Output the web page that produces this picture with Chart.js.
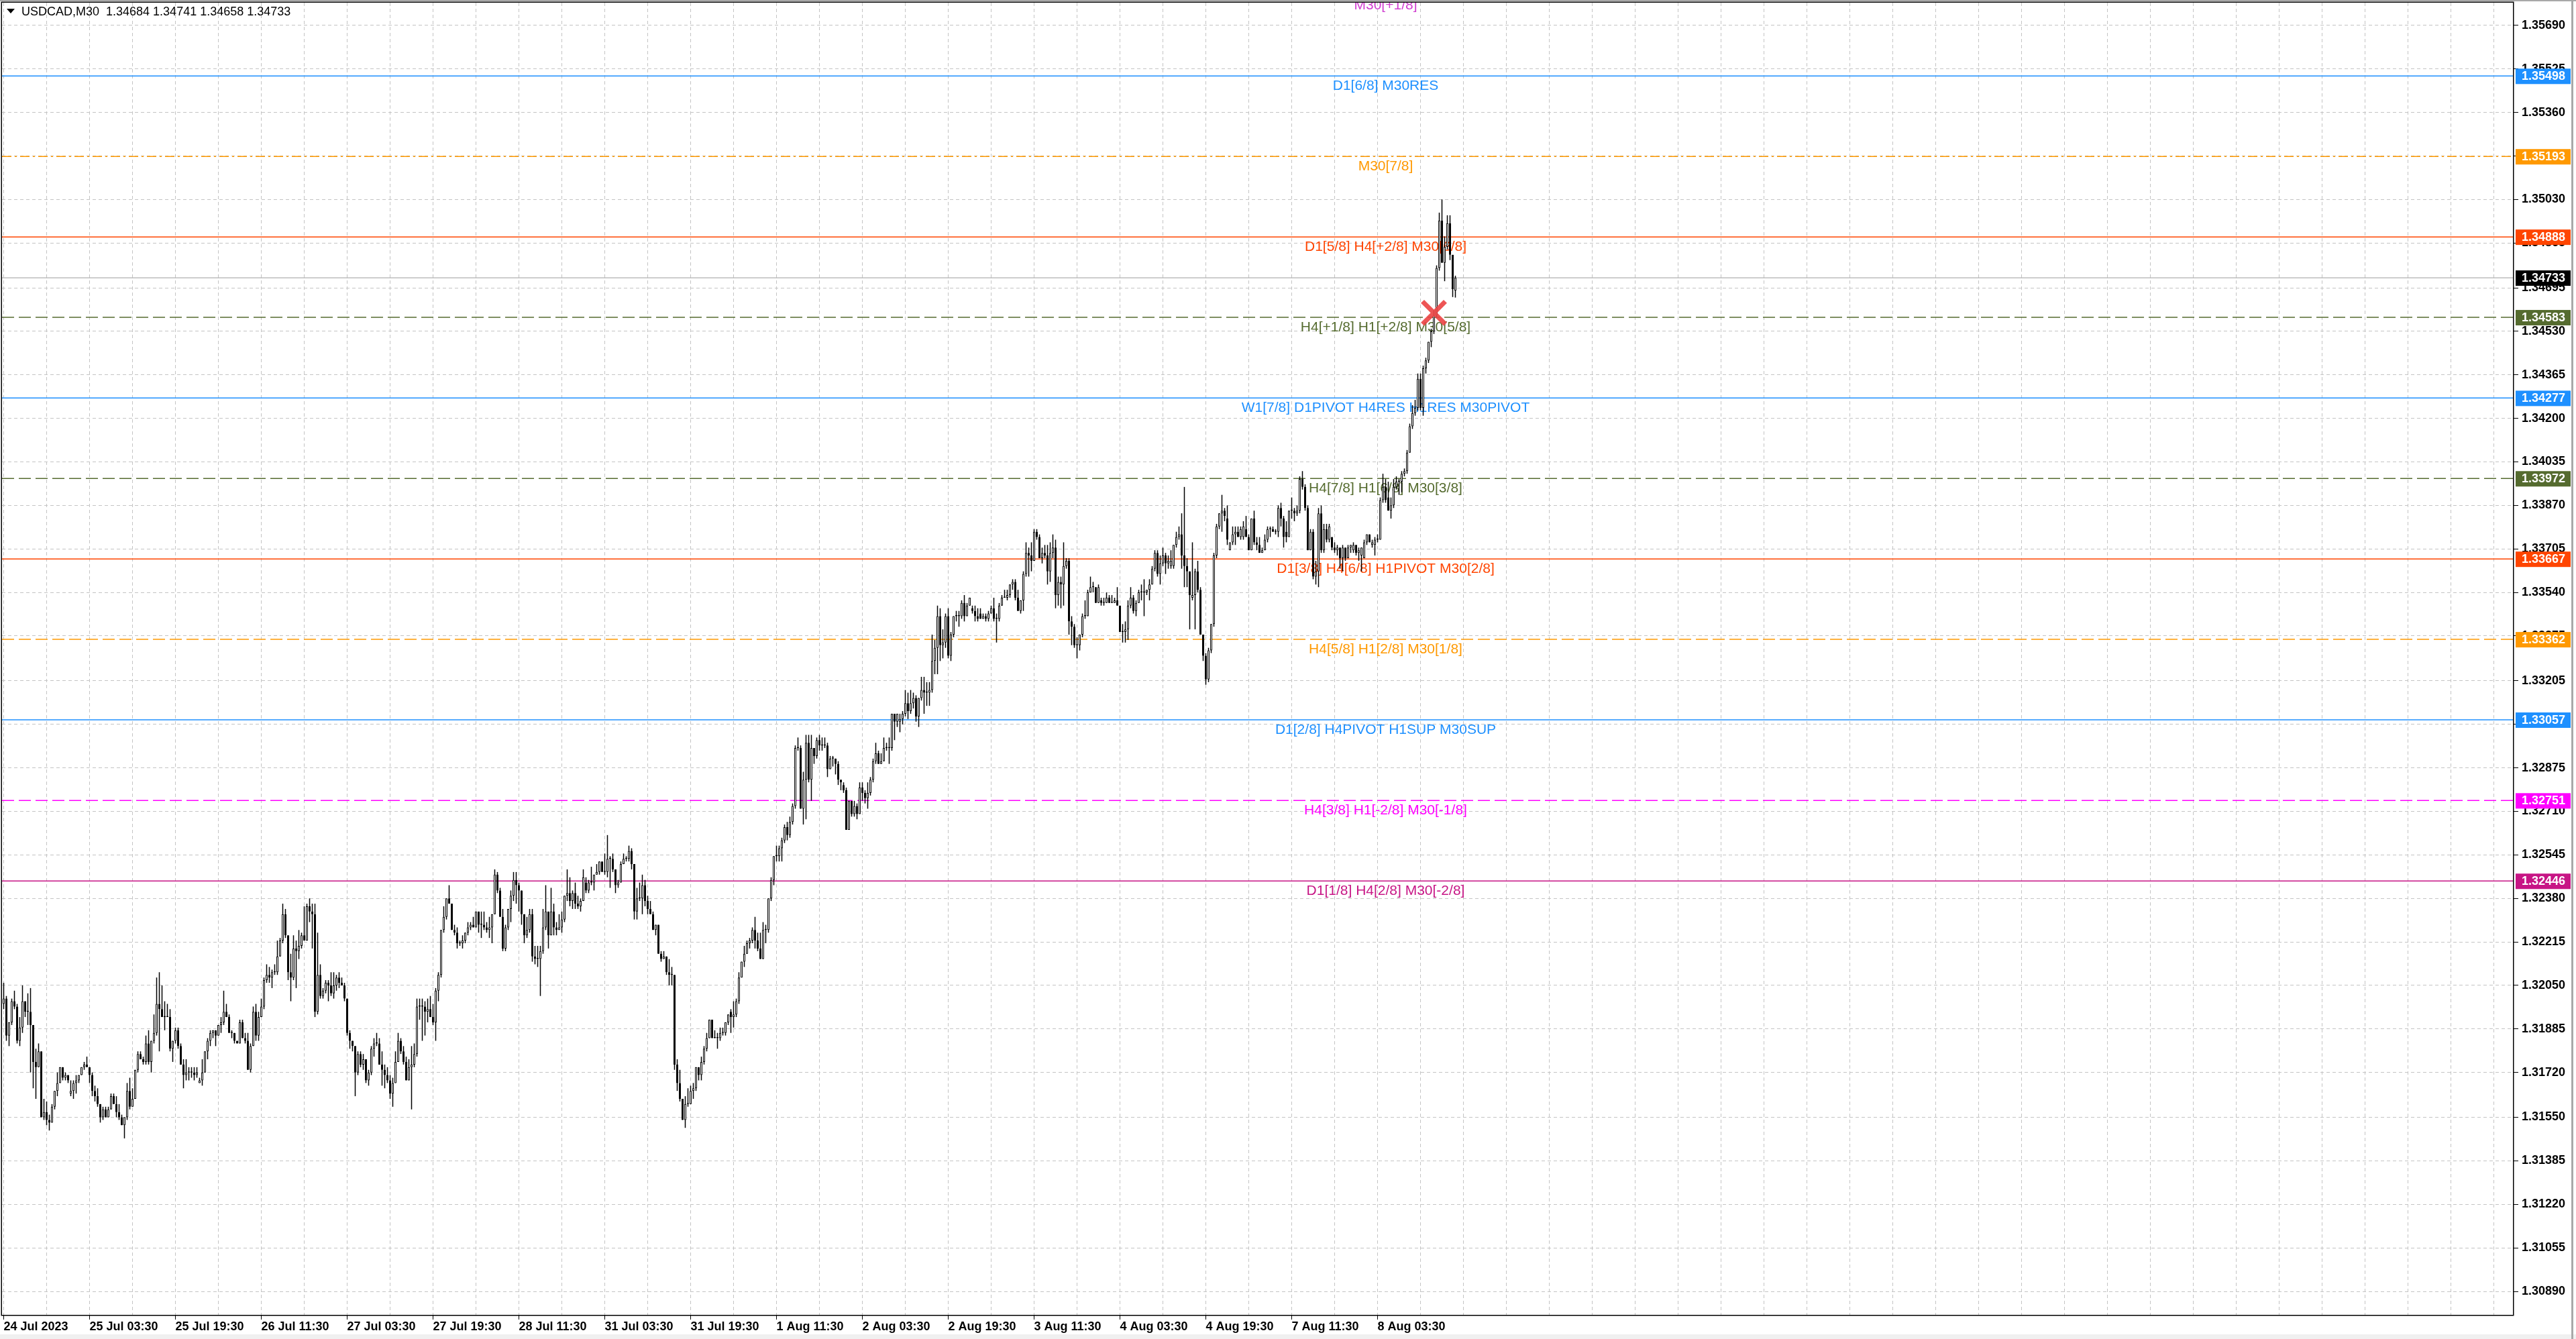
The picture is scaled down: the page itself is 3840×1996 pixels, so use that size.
<!DOCTYPE html>
<html>
<head>
<meta charset="utf-8">
<title>USDCAD,M30</title>
<script src="https://cdn.jsdelivr.net/npm/chart.js@4.4.1/dist/chart.umd.min.js"></script>
<style>
  html, body { margin: 0; padding: 0; background: #fff; }
  #wrap { width: 3840px; height: 1996px; position: relative; }
</style>
</head>
<body>
<div id="wrap"><canvas id="chart"></canvas></div>
<script>
// header line of the terminal window
const symbolTitle = 'USDCAD,M30  1.34684 1.34741 1.34658 1.34733';

// M30 bars, oldest first
const opens = [
  1.3198,1.3200,1.3186,1.3191,1.3199,1.3197,1.3184,1.3189,1.3199,1.3195,
  1.3195,1.3190,1.3176,1.3174,1.3180,1.3155,1.3157,1.3154,1.3153,1.3159,
  1.3165,1.3168,1.3174,1.3170,1.3171,1.3164,1.3165,1.3168,1.3169,1.3171,
  1.3174,1.3175,1.3174,1.3171,1.3165,1.3163,1.3160,1.3155,1.3158,1.3155,
  1.3158,1.3163,1.3160,1.3157,1.3155,1.3152,1.3155,1.3165,1.3159,1.3162,
  1.3173,1.3179,1.3177,1.3176,1.3183,1.3176,1.3184,1.3187,1.3198,1.3196,
  1.3193,1.3193,1.3193,1.3181,1.3184,1.3188,1.3182,1.3175,1.3171,1.3172,
  1.3172,1.3172,1.3171,1.3168,1.3169,1.3172,1.3180,1.3184,1.3187,1.3188,
  1.3186,1.3190,1.3191,1.3195,1.3193,1.3187,1.3187,1.3184,1.3183,1.3191,
  1.3185,1.3184,1.3173,1.3182,1.3195,1.3186,1.3193,1.3197,1.3207,1.3209,
  1.3208,1.3210,1.3210,1.3216,1.3222,1.3232,1.3224,1.3210,1.3208,1.3219,
  1.3218,1.3220,1.3224,1.3222,1.3235,1.3233,1.3232,1.3195,1.3209,1.3201,
  1.3203,1.3206,1.3205,1.3202,1.3205,1.3208,1.3206,1.3205,1.3200,1.3187,
  1.3184,1.3182,1.3172,1.3179,1.3175,1.3177,1.3169,1.3172,1.3181,1.3183,
  1.3183,1.3175,1.3173,1.3171,1.3169,1.3164,1.3168,1.3176,1.3184,1.3180,
  1.3176,1.3169,1.3174,1.3175,1.3179,1.3197,1.3197,1.3197,1.3195,1.3196,
  1.3193,1.3191,1.3203,1.3209,1.3226,1.3231,1.3238,1.3236,1.3226,1.3225,
  1.3221,1.3221,1.3222,1.3225,1.3227,1.3228,1.3227,1.3233,1.3228,1.3228,
  1.3227,1.3226,1.3227,1.3232,1.3247,1.3241,1.3231,1.3219,1.3227,1.3234,
  1.3239,1.3245,1.3243,1.3241,1.3232,1.3224,1.3226,1.3232,1.3216,1.3215,
  1.3215,1.3218,1.3227,1.3233,1.3224,1.3233,1.3227,1.3226,1.3227,1.3230,
  1.3239,1.3240,1.3237,1.3240,1.3236,1.3235,1.3237,1.3244,1.3241,1.3244,
  1.3244,1.3247,1.3248,1.3252,1.3248,1.3248,1.3253,1.3253,1.3249,1.3243,
  1.3244,1.3251,1.3253,1.3253,1.3256,1.3251,1.3233,1.3238,1.3238,1.3243,
  1.3237,1.3234,1.3232,1.3226,1.3228,1.3217,1.3215,1.3216,1.3210,1.3209,
  1.3209,1.3175,1.3168,1.3162,1.3154,1.3160,1.3160,1.3165,1.3166,1.3174,
  1.3171,1.3176,1.3181,1.3185,1.3192,1.3185,1.3185,1.3185,1.3187,1.3187,
  1.3191,1.3195,1.3193,1.3194,1.3199,1.3208,1.3214,1.3217,1.3221,1.3222,
  1.3226,1.3222,1.3219,1.3215,1.3226,1.3226,1.3238,1.3245,1.3254,1.3254,
  1.3257,1.3260,1.3265,1.3262,1.3267,1.3273,1.3295,1.3295,1.3272,1.3283,
  1.3297,1.3283,1.3295,1.3292,1.3298,1.3296,1.3296,1.3296,1.3287,1.3291,
  1.3291,1.3289,1.3283,1.3281,1.3279,1.3264,1.3275,1.3270,1.3273,1.3270,
  1.3280,1.3278,1.3276,1.3278,1.3283,1.3290,1.3293,1.3289,1.3290,1.3295,
  1.3295,1.3295,1.3308,1.3305,1.3305,1.3306,1.3308,1.3312,1.3309,1.3312,
  1.3314,1.3307,1.3314,1.3317,1.3316,1.3316,1.3317,1.3328,1.3333,1.3345,
  1.3334,1.3335,1.3345,1.3330,1.3338,1.3345,1.3345,1.3345,1.3350,1.3345,
  1.3349,1.3348,1.3347,1.3345,1.3346,1.3344,1.3345,1.3344,1.3346,1.3348,
  1.3344,1.3344,1.3349,1.3352,1.3352,1.3353,1.3357,1.3358,1.3352,1.3347,
  1.3351,1.3361,1.3369,1.3368,1.3366,1.3377,1.3375,1.3367,1.3369,1.3368,
  1.3362,1.3369,1.3371,1.3353,1.3358,1.3357,1.3364,1.3366,1.3343,1.3341,
  1.3334,1.3334,1.3338,1.3345,1.3345,1.3354,1.3356,1.3356,1.3350,1.3351,
  1.3350,1.3350,1.3352,1.3350,1.3350,1.3351,1.3349,1.3339,1.3339,1.3340,
  1.3349,1.3352,1.3347,1.3350,1.3354,1.3354,1.3354,1.3355,1.3357,1.3363,
  1.3369,1.3361,1.3365,1.3368,1.3365,1.3364,1.3364,1.3372,1.3375,1.3376,
  1.3368,1.3364,1.3362,1.3352,1.3353,1.3362,1.3355,1.3338,1.3330,1.3321,
  1.3332,1.3342,1.3368,1.3379,1.3384,1.3385,1.3382,1.3370,1.3373,1.3376,
  1.3377,1.3375,1.3375,1.3378,1.3375,1.3370,1.3382,1.3373,1.3372,1.3369,
  1.3370,1.3374,1.3378,1.3378,1.3377,1.3377,1.3386,1.3382,1.3377,1.3375,
  1.3385,1.3385,1.3384,1.3385,1.3397,1.3394,1.3386,1.3370,1.3377,1.3360,
  1.3362,1.3384,1.3370,1.3378,1.3374,1.3375,1.3371,1.3370,1.3371,1.3367,
  1.3371,1.3367,1.3371,1.3370,1.3372,1.3369,1.3368,1.3367,1.3373,1.3376,
  1.3372,1.3372,1.3374,1.3374,1.3389,1.3394,1.3390,1.3385,1.3387,1.3394,
  1.3396,1.3396,1.3399,1.3400,1.3407,1.3417,1.3422,1.3424,1.3435,1.3424,
  1.3439,1.3442,1.3449,1.3453,1.3459,1.3477,1.3495,1.3479,1.3485,1.3494,
  1.3482,1.34684
];
const highs = [
  1.3206,1.3201,1.3191,1.3200,1.3203,1.3198,1.3193,1.3205,1.3199,1.3202,
  1.3204,1.3190,1.3181,1.3183,1.3180,1.3162,1.3161,1.3156,1.3160,1.3165,
  1.3172,1.3174,1.3174,1.3172,1.3171,1.3169,1.3169,1.3171,1.3171,1.3174,
  1.3176,1.3178,1.3174,1.3172,1.3167,1.3166,1.3160,1.3159,1.3159,1.3159,
  1.3164,1.3164,1.3163,1.3160,1.3156,1.3155,1.3168,1.3170,1.3166,1.3173,
  1.3180,1.3180,1.3178,1.3186,1.3188,1.3184,1.3194,1.3208,1.3210,1.3205,
  1.3199,1.3198,1.3196,1.3184,1.3189,1.3189,1.3183,1.3177,1.3177,1.3174,
  1.3174,1.3174,1.3174,1.3170,1.3177,1.3180,1.3185,1.3188,1.3188,1.3188,
  1.3190,1.3193,1.3203,1.3198,1.3194,1.3188,1.3187,1.3184,1.3192,1.3192,
  1.3187,1.3187,1.3183,1.3197,1.3198,1.3195,1.3200,1.3208,1.3213,1.3212,
  1.3211,1.3213,1.3222,1.3223,1.3236,1.3234,1.3224,1.3217,1.3224,1.3222,
  1.3226,1.3225,1.3235,1.3236,1.3238,1.3236,1.3236,1.3225,1.3213,1.3204,
  1.3207,1.3207,1.3210,1.3210,1.3209,1.3210,1.3208,1.3206,1.3200,1.3188,
  1.3184,1.3182,1.3180,1.3180,1.3179,1.3177,1.3173,1.3182,1.3185,1.3187,
  1.3185,1.3180,1.3175,1.3174,1.3171,1.3170,1.3180,1.3187,1.3185,1.3182,
  1.3178,1.3177,1.3182,1.3183,1.3200,1.3200,1.3200,1.3199,1.3200,1.3201,
  1.3198,1.3204,1.3210,1.3226,1.3235,1.3238,1.3243,1.3236,1.3228,1.3227,
  1.3222,1.3224,1.3225,1.3229,1.3229,1.3231,1.3233,1.3233,1.3233,1.3233,
  1.3229,1.3231,1.3232,1.3249,1.3248,1.3242,1.3234,1.3228,1.3234,1.3241,
  1.3248,1.3248,1.3244,1.3241,1.3232,1.3231,1.3234,1.3234,1.3220,1.3220,
  1.3220,1.3234,1.3243,1.3233,1.3242,1.3236,1.3229,1.3232,1.3233,1.3239,
  1.3249,1.3246,1.3241,1.3244,1.3239,1.3238,1.3249,1.3246,1.3245,1.3250,
  1.3247,1.3251,1.3252,1.3252,1.3255,1.3262,1.3254,1.3255,1.3249,1.3245,
  1.3252,1.3255,1.3254,1.3258,1.3257,1.3251,1.3242,1.3244,1.3247,1.3245,
  1.3239,1.3237,1.3233,1.3228,1.3228,1.3218,1.3218,1.3216,1.3215,1.3212,
  1.3209,1.3177,1.3173,1.3162,1.3163,1.3166,1.3167,1.3168,1.3174,1.3174,
  1.3178,1.3182,1.3187,1.3192,1.3192,1.3188,1.3187,1.3189,1.3189,1.3191,
  1.3194,1.3196,1.3199,1.3200,1.3210,1.3214,1.3220,1.3222,1.3223,1.3227,
  1.3231,1.3225,1.3225,1.3229,1.3228,1.3238,1.3246,1.3254,1.3258,1.3258,
  1.3261,1.3266,1.3267,1.3269,1.3274,1.3296,1.3299,1.3296,1.3286,1.3300,
  1.3300,1.3300,1.3295,1.3299,1.3300,1.3299,1.3299,1.3297,1.3292,1.3292,
  1.3291,1.3290,1.3283,1.3282,1.3280,1.3275,1.3275,1.3275,1.3274,1.3282,
  1.3282,1.3279,1.3282,1.3284,1.3291,1.3297,1.3294,1.3293,1.3299,1.3297,
  1.3299,1.3308,1.3308,1.3308,1.3308,1.3309,1.3317,1.3316,1.3317,1.3316,
  1.3315,1.3314,1.3322,1.3322,1.3320,1.3320,1.3338,1.3336,1.3349,1.3348,
  1.3340,1.3346,1.3348,1.3339,1.3345,1.3347,1.3347,1.3351,1.3353,1.3350,
  1.3352,1.3349,1.3349,1.3348,1.3348,1.3346,1.3346,1.3347,1.3349,1.3352,
  1.3346,1.3350,1.3353,1.3355,1.3355,1.3357,1.3359,1.3359,1.3355,1.3351,
  1.3362,1.3373,1.3371,1.3373,1.3378,1.3378,1.3376,1.3371,1.3372,1.3372,
  1.3373,1.3376,1.3374,1.3360,1.3360,1.3373,1.3367,1.3367,1.3345,1.3342,
  1.3337,1.3338,1.3346,1.3351,1.3355,1.3360,1.3358,1.3356,1.3357,1.3352,
  1.3352,1.3354,1.3353,1.3353,1.3352,1.3356,1.3349,1.3342,1.3343,1.3351,
  1.3356,1.3353,1.3351,1.3355,1.3357,1.3359,1.3355,1.3359,1.3364,1.3370,
  1.3370,1.3368,1.3371,1.3369,1.3368,1.3370,1.3372,1.3377,1.3379,1.3384,
  1.3394,1.3367,1.3362,1.3373,1.3363,1.3366,1.3356,1.3338,1.3331,1.3333,
  1.3342,1.3369,1.3380,1.3384,1.3391,1.3386,1.3387,1.3373,1.3379,1.3379,
  1.3379,1.3379,1.3381,1.3383,1.3376,1.3382,1.3385,1.3375,1.3375,1.3371,
  1.3376,1.3379,1.3379,1.3379,1.3378,1.3387,1.3388,1.3383,1.3381,1.3385,
  1.3390,1.3386,1.3387,1.3398,1.3400,1.3395,1.3387,1.3378,1.3378,1.3366,
  1.3386,1.3387,1.3380,1.3380,1.3380,1.3375,1.3373,1.3372,1.3371,1.3372,
  1.3371,1.3372,1.3372,1.3373,1.3372,1.3371,1.3371,1.3374,1.3376,1.3376,
  1.3374,1.3375,1.3376,1.3390,1.3399,1.3397,1.3396,1.3390,1.3397,1.3398,
  1.3397,1.3400,1.3401,1.3408,1.3418,1.3425,1.3427,1.3437,1.3437,1.3440,
  1.3443,1.3449,1.3454,1.3461,1.3478,1.3498,1.3503,1.3489,1.3497,1.3497,
  1.3482,1.34741
];
const lows = [
  1.3196,1.3184,1.3182,1.3190,1.3196,1.3183,1.3182,1.3187,1.3193,1.3190,
  1.3172,1.3166,1.3162,1.3174,1.3155,1.3154,1.3152,1.3150,1.3153,1.3158,
  1.3163,1.3168,1.3169,1.3169,1.3168,1.3163,1.3162,1.3164,1.3168,1.3171,
  1.3173,1.3174,1.3168,1.3163,1.3161,1.3159,1.3153,1.3154,1.3155,1.3155,
  1.3158,1.3160,1.3155,1.3154,1.3152,1.3147,1.3154,1.3158,1.3159,1.3162,
  1.3172,1.3177,1.3175,1.3175,1.3175,1.3172,1.3183,1.3186,1.3180,1.3193,
  1.3188,1.3193,1.3180,1.3176,1.3183,1.3181,1.3175,1.3166,1.3169,1.3169,
  1.3170,1.3169,1.3170,1.3168,1.3167,1.3172,1.3177,1.3182,1.3185,1.3182,
  1.3186,1.3187,1.3190,1.3193,1.3187,1.3185,1.3183,1.3183,1.3183,1.3185,
  1.3183,1.3173,1.3172,1.3182,1.3184,1.3184,1.3193,1.3196,1.3206,1.3206,
  1.3204,1.3209,1.3209,1.3216,1.3221,1.3223,1.3207,1.3199,1.3207,1.3204,
  1.3215,1.3219,1.3222,1.3222,1.3229,1.3219,1.3193,1.3194,1.3200,1.3200,
  1.3202,1.3199,1.3201,1.3200,1.3203,1.3204,1.3205,1.3199,1.3186,1.3181,
  1.3180,1.3163,1.3171,1.3174,1.3173,1.3168,1.3167,1.3171,1.3178,1.3182,
  1.3175,1.3167,1.3166,1.3168,1.3162,1.3159,1.3168,1.3176,1.3179,1.3175,
  1.3169,1.3169,1.3158,1.3174,1.3178,1.3192,1.3184,1.3186,1.3191,1.3193,
  1.3190,1.3184,1.3199,1.3208,1.3225,1.3230,1.3236,1.3226,1.3224,1.3219,
  1.3220,1.3219,1.3221,1.3224,1.3226,1.3227,1.3227,1.3225,1.3223,1.3226,
  1.3225,1.3223,1.3221,1.3232,1.3240,1.3231,1.3218,1.3218,1.3226,1.3229,
  1.3237,1.3236,1.3233,1.3228,1.3221,1.3223,1.3225,1.3214,1.3213,1.3212,
  1.3201,1.3217,1.3226,1.3219,1.3224,1.3224,1.3224,1.3226,1.3225,1.3229,
  1.3237,1.3235,1.3234,1.3234,1.3234,1.3233,1.3237,1.3240,1.3240,1.3243,
  1.3241,1.3247,1.3247,1.3248,1.3247,1.3246,1.3242,1.3248,1.3240,1.3242,
  1.3244,1.3251,1.3252,1.3252,1.3249,1.3230,1.3230,1.3237,1.3232,1.3235,
  1.3232,1.3232,1.3226,1.3224,1.3217,1.3214,1.3215,1.3209,1.3205,1.3205,
  1.3173,1.3165,1.3161,1.3154,1.3151,1.3159,1.3160,1.3162,1.3165,1.3169,
  1.3169,1.3175,1.3180,1.3185,1.3185,1.3185,1.3181,1.3184,1.3186,1.3186,
  1.3190,1.3187,1.3189,1.3193,1.3198,1.3208,1.3212,1.3217,1.3219,1.3221,
  1.3219,1.3218,1.3215,1.3215,1.3221,1.3225,1.3237,1.3243,1.3252,1.3252,
  1.3252,1.3259,1.3260,1.3261,1.3266,1.3272,1.3294,1.3272,1.3266,1.3268,
  1.3282,1.3275,1.3289,1.3291,1.3294,1.3294,1.3295,1.3284,1.3287,1.3288,
  1.3285,1.3281,1.3279,1.3278,1.3264,1.3264,1.3269,1.3269,1.3268,1.3270,
  1.3275,1.3274,1.3272,1.3277,1.3282,1.3289,1.3289,1.3289,1.3290,1.3294,
  1.3289,1.3294,1.3298,1.3303,1.3301,1.3304,1.3307,1.3306,1.3308,1.3310,
  1.3305,1.3303,1.3313,1.3308,1.3311,1.3311,1.3316,1.3323,1.3323,1.3328,
  1.3329,1.3333,1.3329,1.3328,1.3337,1.3343,1.3341,1.3344,1.3343,1.3345,
  1.3349,1.3346,1.3343,1.3343,1.3344,1.3344,1.3343,1.3343,1.3346,1.3343,
  1.3335,1.3343,1.3349,1.3352,1.3351,1.3352,1.3355,1.3351,1.3347,1.3346,
  1.3347,1.3360,1.3360,1.3362,1.3366,1.3374,1.3367,1.3365,1.3367,1.3357,
  1.3358,1.3367,1.3348,1.3349,1.3348,1.3349,1.3363,1.3338,1.3334,1.3333,
  1.3329,1.3332,1.3337,1.3344,1.3345,1.3354,1.3354,1.3350,1.3350,1.3349,
  1.3349,1.3350,1.3350,1.3350,1.3350,1.3349,1.3339,1.3335,1.3335,1.3336,
  1.3348,1.3346,1.3345,1.3350,1.3351,1.3345,1.3353,1.3351,1.3357,1.3362,
  1.3360,1.3357,1.3364,1.3361,1.3363,1.3363,1.3363,1.3371,1.3374,1.3363,
  1.3356,1.3356,1.3340,1.3351,1.3340,1.3354,1.3338,1.3328,1.3319,1.3320,
  1.3331,1.3341,1.3367,1.3378,1.3377,1.3381,1.3372,1.3370,1.3372,1.3372,
  1.3375,1.3374,1.3374,1.3375,1.3370,1.3370,1.3372,1.3370,1.3369,1.3369,
  1.3370,1.3373,1.3375,1.3377,1.3376,1.3375,1.3379,1.3371,1.3373,1.3375,
  1.3382,1.3381,1.3383,1.3384,1.3393,1.3385,1.3370,1.3370,1.3359,1.3357,
  1.3356,1.3369,1.3369,1.3373,1.3373,1.3370,1.3369,1.3368,1.3363,1.3362,
  1.3366,1.3367,1.3369,1.3369,1.3368,1.3366,1.3362,1.3367,1.3372,1.3373,
  1.3371,1.3368,1.3373,1.3374,1.3388,1.3388,1.3385,1.3382,1.3386,1.3393,
  1.3391,1.3392,1.3398,1.3399,1.3407,1.3416,1.3421,1.3423,1.3423,1.3421,
  1.3437,1.3441,1.3447,1.3452,1.3458,1.3476,1.3479,1.3472,1.3484,1.3480,
  1.3466,1.34658
];
const closes = [
  1.3200,1.3186,1.3191,1.3199,1.3197,1.3184,1.3189,1.3199,1.3195,1.3195,
  1.3190,1.3176,1.3174,1.3180,1.3155,1.3157,1.3154,1.3153,1.3159,1.3165,
  1.3168,1.3174,1.3170,1.3171,1.3169,1.3165,1.3168,1.3169,1.3171,1.3174,
  1.3175,1.3174,1.3171,1.3165,1.3163,1.3160,1.3155,1.3158,1.3155,1.3158,
  1.3163,1.3160,1.3157,1.3155,1.3152,1.3155,1.3165,1.3159,1.3162,1.3173,
  1.3179,1.3177,1.3176,1.3183,1.3176,1.3184,1.3187,1.3198,1.3196,1.3193,
  1.3193,1.3193,1.3181,1.3184,1.3188,1.3182,1.3175,1.3171,1.3172,1.3172,
  1.3172,1.3171,1.3172,1.3169,1.3172,1.3180,1.3184,1.3187,1.3188,1.3186,
  1.3190,1.3191,1.3195,1.3193,1.3187,1.3187,1.3184,1.3183,1.3191,1.3185,
  1.3184,1.3173,1.3182,1.3195,1.3186,1.3193,1.3197,1.3207,1.3209,1.3208,
  1.3210,1.3210,1.3216,1.3222,1.3232,1.3224,1.3210,1.3208,1.3219,1.3218,
  1.3220,1.3224,1.3222,1.3235,1.3233,1.3232,1.3195,1.3209,1.3201,1.3203,
  1.3206,1.3205,1.3202,1.3205,1.3208,1.3206,1.3205,1.3200,1.3187,1.3184,
  1.3182,1.3172,1.3179,1.3175,1.3177,1.3169,1.3172,1.3181,1.3183,1.3183,
  1.3175,1.3173,1.3171,1.3169,1.3164,1.3168,1.3176,1.3184,1.3180,1.3176,
  1.3169,1.3174,1.3175,1.3179,1.3197,1.3197,1.3197,1.3195,1.3196,1.3193,
  1.3191,1.3203,1.3209,1.3226,1.3231,1.3238,1.3236,1.3226,1.3225,1.3221,
  1.3221,1.3222,1.3225,1.3227,1.3228,1.3227,1.3233,1.3228,1.3228,1.3227,
  1.3226,1.3227,1.3232,1.3247,1.3241,1.3231,1.3219,1.3227,1.3234,1.3239,
  1.3245,1.3243,1.3241,1.3232,1.3224,1.3226,1.3232,1.3216,1.3215,1.3215,
  1.3218,1.3227,1.3233,1.3224,1.3233,1.3227,1.3226,1.3227,1.3230,1.3239,
  1.3240,1.3237,1.3240,1.3236,1.3235,1.3237,1.3246,1.3241,1.3244,1.3244,
  1.3247,1.3248,1.3252,1.3248,1.3248,1.3253,1.3253,1.3249,1.3243,1.3244,
  1.3251,1.3253,1.3253,1.3256,1.3251,1.3233,1.3238,1.3238,1.3243,1.3237,
  1.3234,1.3232,1.3226,1.3228,1.3217,1.3215,1.3216,1.3210,1.3209,1.3209,
  1.3175,1.3168,1.3162,1.3154,1.3160,1.3160,1.3165,1.3166,1.3174,1.3171,
  1.3176,1.3181,1.3185,1.3192,1.3185,1.3185,1.3185,1.3187,1.3187,1.3191,
  1.3194,1.3193,1.3194,1.3199,1.3208,1.3214,1.3217,1.3221,1.3222,1.3226,
  1.3222,1.3219,1.3215,1.3226,1.3226,1.3238,1.3245,1.3254,1.3254,1.3257,
  1.3260,1.3265,1.3262,1.3267,1.3273,1.3295,1.3295,1.3272,1.3283,1.3297,
  1.3283,1.3295,1.3292,1.3298,1.3296,1.3296,1.3296,1.3287,1.3291,1.3291,
  1.3289,1.3283,1.3282,1.3279,1.3264,1.3275,1.3270,1.3273,1.3270,1.3280,
  1.3278,1.3276,1.3278,1.3283,1.3290,1.3293,1.3289,1.3290,1.3295,1.3295,
  1.3295,1.3308,1.3305,1.3308,1.3306,1.3308,1.3312,1.3309,1.3312,1.3314,
  1.3307,1.3314,1.3317,1.3316,1.3316,1.3317,1.3328,1.3333,1.3345,1.3334,
  1.3335,1.3345,1.3330,1.3338,1.3345,1.3345,1.3345,1.3350,1.3345,1.3349,
  1.3352,1.3347,1.3345,1.3344,1.3344,1.3345,1.3344,1.3346,1.3348,1.3344,
  1.3344,1.3349,1.3352,1.3352,1.3353,1.3357,1.3358,1.3352,1.3347,1.3351,
  1.3361,1.3369,1.3368,1.3366,1.3377,1.3375,1.3367,1.3369,1.3368,1.3362,
  1.3369,1.3371,1.3353,1.3358,1.3357,1.3364,1.3366,1.3343,1.3341,1.3334,
  1.3334,1.3338,1.3345,1.3345,1.3354,1.3356,1.3356,1.3350,1.3356,1.3350,
  1.3350,1.3352,1.3350,1.3350,1.3351,1.3349,1.3339,1.3339,1.3340,1.3349,
  1.3352,1.3347,1.3350,1.3354,1.3354,1.3354,1.3355,1.3357,1.3363,1.3369,
  1.3361,1.3365,1.3368,1.3365,1.3366,1.3366,1.3372,1.3375,1.3376,1.3368,
  1.3364,1.3362,1.3353,1.3353,1.3362,1.3355,1.3338,1.3330,1.3321,1.3332,
  1.3342,1.3368,1.3379,1.3384,1.3385,1.3383,1.3374,1.3373,1.3376,1.3377,
  1.3375,1.3378,1.3379,1.3375,1.3370,1.3382,1.3373,1.3372,1.3369,1.3370,
  1.3374,1.3378,1.3378,1.3377,1.3377,1.3386,1.3382,1.3375,1.3375,1.3385,
  1.3385,1.3384,1.3385,1.3397,1.3394,1.3386,1.3370,1.3377,1.3360,1.3362,
  1.3384,1.3370,1.3378,1.3374,1.3379,1.3371,1.3370,1.3371,1.3367,1.3371,
  1.3367,1.3371,1.3372,1.3372,1.3369,1.3370,1.3371,1.3373,1.3376,1.3373,
  1.3373,1.3374,1.3374,1.3389,1.3394,1.3389,1.3385,1.3387,1.3394,1.3396,
  1.3396,1.3399,1.3400,1.3407,1.3417,1.3422,1.3424,1.3435,1.3424,1.3439,
  1.3442,1.3449,1.3453,1.3459,1.3477,1.3495,1.3479,1.3485,1.3494,1.3482,
  1.3469,1.34733
];

// time axis: a label every 32 bars, starting at bar 0
const xTickBars = [0, 32, 64, 96, 128, 160, 192, 224, 256, 288, 320, 352, 384, 416, 448, 480, 512];
const xTickLabels = ['24 Jul 2023', '25 Jul 03:30', '25 Jul 19:30', '26 Jul 11:30', '27 Jul 03:30',
  '27 Jul 19:30', '28 Jul 11:30', '31 Jul 03:30', '31 Jul 19:30', '1 Aug 11:30', '2 Aug 03:30',
  '2 Aug 19:30', '3 Aug 11:30', '4 Aug 03:30', '4 Aug 19:30', '7 Aug 11:30', '8 Aug 03:30'];

// price axis labels
const yTickValues = [1.35690, 1.35525, 1.35360, 1.35195, 1.35030, 1.34865, 1.34695, 1.34530, 1.34365,
  1.34200, 1.34035, 1.33870, 1.33705, 1.33540, 1.33375, 1.33205, 1.33040, 1.32875, 1.32710, 1.32545,
  1.32380, 1.32215, 1.32050, 1.31885, 1.31720, 1.31550, 1.31385, 1.31220, 1.31055, 1.30890];

// Murrey math levels
const levelPrices = [1.35803, 1.35498, 1.35193, 1.34888, 1.34583, 1.34277, 1.33972, 1.33667, 1.33362,
  1.33057, 1.32751, 1.32446];
const levelLabels = ['M30[+1/8]', 'D1[6/8] M30RES', 'M30[7/8]', 'D1[5/8] H4[+2/8] M30[6/8]',
  'H4[+1/8] H1[+2/8] M30[5/8]', 'W1[7/8] D1PIVOT H4RES H1RES M30PIVOT', 'H4[7/8] H1[6/8] M30[3/8]',
  'D1[3/8] H4[6/8] H1PIVOT M30[2/8]', 'H4[5/8] H1[2/8] M30[1/8]', 'D1[2/8] H4PIVOT H1SUP M30SUP',
  'H4[3/8] H1[-2/8] M30[-1/8]', 'D1[1/8] H4[2/8] M30[-2/8]'];
const levelLabelBar = 515;

const bidPrice = 1.34733;
const markBar = 533;
const markPrice = 1.3460;

// styles for the levels, same order as levelPrices
const DASH = [18, 7];
const levelStyles = [
  { color: '#D040D0', dash: [] },
  { color: '#1E90FF', dash: [] },
  { color: '#FF9900', dash: [14, 5, 3, 5] },
  { color: '#FF4500', dash: [] },
  { color: '#556B2F', dash: DASH },
  { color: '#1E90FF', dash: [] },
  { color: '#556B2F', dash: DASH },
  { color: '#FF4500', dash: [] },
  { color: '#FF9900', dash: DASH },
  { color: '#1E90FF', dash: [] },
  { color: '#FF00FF', dash: DASH },
  { color: '#C71585', dash: [] }
];

const X_MIN = -0.625, X_MAX = 935.125;
const Y_MIN = 1.30801, Y_MAX = 1.35776;
const AXIS_FONT = { family: '"Liberation Sans", Arial, sans-serif', size: 18, weight: 'bold' };

const bodyData = opens.map((o, i) => ({ x: i, y: [o, closes[i]] }));
const bodyColors = opens.map((o, i) => closes[i] > o ? '#ffffff' : '#000000');
const wickData = lows.map((l, i) => ({ x: i, y: [l, highs[i]] }));

const datasets = [
  {
    type: 'line', label: 'mark', data: [{ x: markBar, y: markPrice }], showLine: false,
    pointStyle: 'crossRot', pointRadius: 24, pointBorderWidth: 7,
    pointBorderColor: 'rgba(236,70,70,0.92)', pointBackgroundColor: 'rgba(0,0,0,0)', order: 0
  },
  {
    label: 'body', data: bodyData, backgroundColor: bodyColors, borderColor: '#000', borderWidth: 1,
    borderSkipped: false, barThickness: 3, minBarLength: 1.5, grouped: false, inflateAmount: 0, order: 1
  },
  {
    label: 'wick', data: wickData, backgroundColor: '#000', borderWidth: 0, barThickness: 1.5,
    grouped: false, inflateAmount: 0, order: 2
  },
  {
    type: 'line', label: 'bid', data: [{ x: X_MIN, y: bidPrice }, { x: X_MAX, y: bidPrice }],
    borderColor: '#B0B0B0', borderWidth: 1.2, pointRadius: 0, order: 3
  }
];
levelPrices.forEach((p, i) => {
  datasets.push({
    type: 'line', label: levelLabels[i], data: [{ x: X_MIN, y: p }, { x: X_MAX, y: p }],
    borderColor: levelStyles[i].color, borderDash: levelStyles[i].dash, borderWidth: 1.5,
    pointRadius: 0, order: 3
  });
});

// level captions under the lines, price boxes, frame and header
const decor = {
  id: 'decor',
  beforeDatasetsDraw(chart) {
    const { ctx, chartArea: a, scales: { x, y } } = chart;
    ctx.save();
    ctx.beginPath();
    ctx.rect(a.left, a.top, a.right - a.left, a.bottom - a.top);
    ctx.clip();
    ctx.font = '21px "Liberation Sans", Arial, sans-serif';
    ctx.textAlign = 'center';
    ctx.textBaseline = 'alphabetic';
    const cx = x.getPixelForValue(levelLabelBar);
    levelPrices.forEach((p, i) => {
      ctx.fillStyle = levelStyles[i].color;
      ctx.fillText(levelLabels[i], cx, y.getPixelForValue(p) + 21);
    });
    ctx.restore();
  },
  afterDraw(chart) {
    const { ctx, chartArea: a, scales: { y } } = chart;
    ctx.save();
    // window edges
    ctx.fillStyle = '#f0f0f0';
    ctx.fillRect(0, 1989, 3840, 7);
    ctx.fillStyle = '#a8a8a8';
    ctx.fillRect(0, 0, 3840, 2);
    ctx.fillRect(3833, 0, 3, 1996);
    // plot frame
    ctx.strokeStyle = '#000';
    ctx.lineWidth = 1.5;
    ctx.strokeRect(a.left - 0.75, a.top - 0.75, a.right - a.left + 1.5, a.bottom - a.top + 1.5);
    // price boxes on the axis
    ctx.font = 'bold 18px "Liberation Sans", Arial, sans-serif';
    ctx.textAlign = 'left';
    ctx.textBaseline = 'middle';
    const boxes = levelPrices.map((p, i) => ({ p, c: levelStyles[i].color }));
    boxes.push({ p: bidPrice, c: '#000' });
    boxes.forEach(b => {
      if (b.p > y.max || b.p < y.min) return;
      const py = y.getPixelForValue(b.p);
      ctx.fillStyle = b.c;
      ctx.fillRect(a.right + 4, py - 11, 82, 23);
      ctx.fillStyle = '#fff';
      ctx.fillText(b.p.toFixed(5), a.right + 13, py + 1);
    });
    // header
    ctx.fillStyle = '#000';
    ctx.beginPath();
    ctx.moveTo(10, 13); ctx.lineTo(22, 13); ctx.lineTo(16, 20); ctx.closePath();
    ctx.fill();
    ctx.font = '18px "Liberation Sans", Arial, sans-serif';
    ctx.fillText(symbolTitle, 32, 18);
    ctx.restore();
  }
};

new Chart(document.getElementById('chart'), {
  type: 'bar',
  data: { datasets },
  options: {
    responsive: true,
    maintainAspectRatio: false,
    devicePixelRatio: 1,
    animation: false,
    layout: { autoPadding: false, padding: { left: 3, top: 4, right: 0, bottom: 0 } },
    plugins: { legend: { display: false }, tooltip: { enabled: false } },
    scales: {
      x: {
        type: 'linear', min: X_MIN, max: X_MAX, offset: false,
        afterBuildTicks: s => { s.ticks = []; for (let v = 0; v <= X_MAX; v += 16) s.ticks.push({ value: v }); },
        afterFit: s => { s.height = 36; s.paddingLeft = 0; s.paddingRight = 0; },
        grid: {
          offset: false, color: '#c4c4c4', lineWidth: 1, tickLength: 7,
          tickColor: c => (c.tick && xTickBars.includes(c.tick.value)) ? '#000' : 'rgba(0,0,0,0)'
        },
        border: { display: false, dash: [5, 4] },
        ticks: {
          autoSkip: false, maxRotation: 0, minRotation: 0, align: 'start', padding: 0,
          color: '#000', font: AXIS_FONT,
          callback: v => { const k = xTickBars.indexOf(v); return k >= 0 ? xTickLabels[k] : ''; }
        }
      },
      y: {
        position: 'right', min: Y_MIN, max: Y_MAX, beginAtZero: false,
        afterBuildTicks: s => { s.ticks = yTickValues.map(v => ({ value: v })); },
        afterFit: s => { s.width = 94; s.paddingTop = 0; s.paddingBottom = 0; },
        grid: { color: '#c4c4c4', lineWidth: 1, tickLength: 8, tickColor: '#000' },
        border: { display: false, dash: [5, 4] },
        ticks: {
          autoSkip: false, padding: 5, color: '#000', font: AXIS_FONT,
          callback: v => v.toFixed(5)
        }
      }
    }
  },
  plugins: [decor]
});
</script>
</body>
</html>
